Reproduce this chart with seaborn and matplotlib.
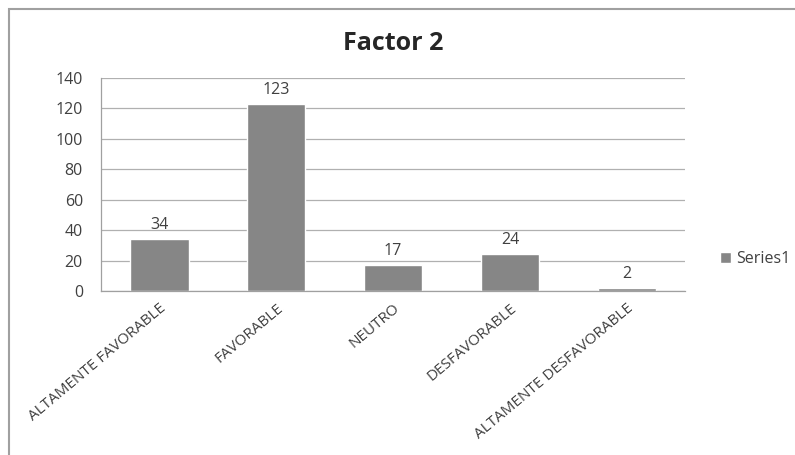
import matplotlib
matplotlib.use('Agg')
import matplotlib.pyplot as plt
import seaborn as sns
import pandas as pd
from matplotlib.patches import Rectangle

# --- datos ---
categorias = ['ALTAMENTE FAVORABLE', 'FAVORABLE', 'NEUTRO', 'DESFAVORABLE',
              'ALTAMENTE DESFAVORABLE']
valores = [34, 123, 17, 24, 2]
serie = 'Series1'

df = pd.DataFrame({'categoria': categorias, 'valor': valores})

sns.set_style('white')
plt.rcParams['font.family'] = ['Open Sans', 'DejaVu Sans']

fig = plt.figure(figsize=(7.95, 4.55), dpi=100)
ax = fig.add_axes([0.127, 0.3604, 0.735, 0.4682])

gris_barra = '#868686'
sns.barplot(data=df, x='categoria', y='valor', color=gris_barra, width=0.5,
            saturation=1, ax=ax, label=serie)

ax.set_ylim(0, 140)
ax.set_xlim(-0.5, len(categorias) - 0.5)
ax.set_yticks(range(0, 141, 20))
ax.yaxis.grid(True, color='#b0b0b0', linewidth=0.9)
ax.set_axisbelow(True)
ax.set_xlabel('')
ax.set_ylabel('')

# ticks de x en los límites de cada categoría
ax.set_xticks([i + 0.5 for i in range(-1, len(categorias))], minor=False)
ax.set_xticklabels([])
ax.set_xticks(range(len(categorias)), minor=True)
ax.set_xticklabels(categorias, minor=True, rotation=40, ha='right',
                   rotation_mode='anchor', fontsize=11, color='#404040')
ax.tick_params(axis='x', which='major', length=5, color='#a0a0a0', direction='out')
ax.tick_params(axis='x', which='minor', length=0, pad=7)
ax.tick_params(axis='y', length=5, color='#a0a0a0', labelsize=11.5,
               labelcolor='#404040', direction='out', pad=8)

for s in ['top', 'right']:
    ax.spines[s].set_visible(False)
for s in ['left', 'bottom']:
    ax.spines[s].set_color('#a0a0a0')
    ax.spines[s].set_linewidth(0.9)

# etiquetas de datos
for i, v in enumerate(valores):
    ax.text(i, v + 4, str(v), ha='center', va='bottom', fontsize=11.5,
            color='#404040')

ax.set_title('Factor 2', fontsize=18, fontweight='bold', color='#262626', pad=20)

leg = ax.legend(loc='center left', bbox_to_anchor=(1.035, 0.15), frameon=False,
                fontsize=11.5, handlelength=0.7, handleheight=0.7, handletextpad=0.3)
for t in leg.get_texts():
    t.set_color('#404040')

# marco del gráfico
fig.patches.append(Rectangle((9 / 795, -0.1), 1.2, 1 - 9 / 455 + 0.1,
                             transform=fig.transFigure, fill=False,
                             edgecolor='#a0a0a0', linewidth=1.5))

fig.savefig('out.png', dpi=100)
